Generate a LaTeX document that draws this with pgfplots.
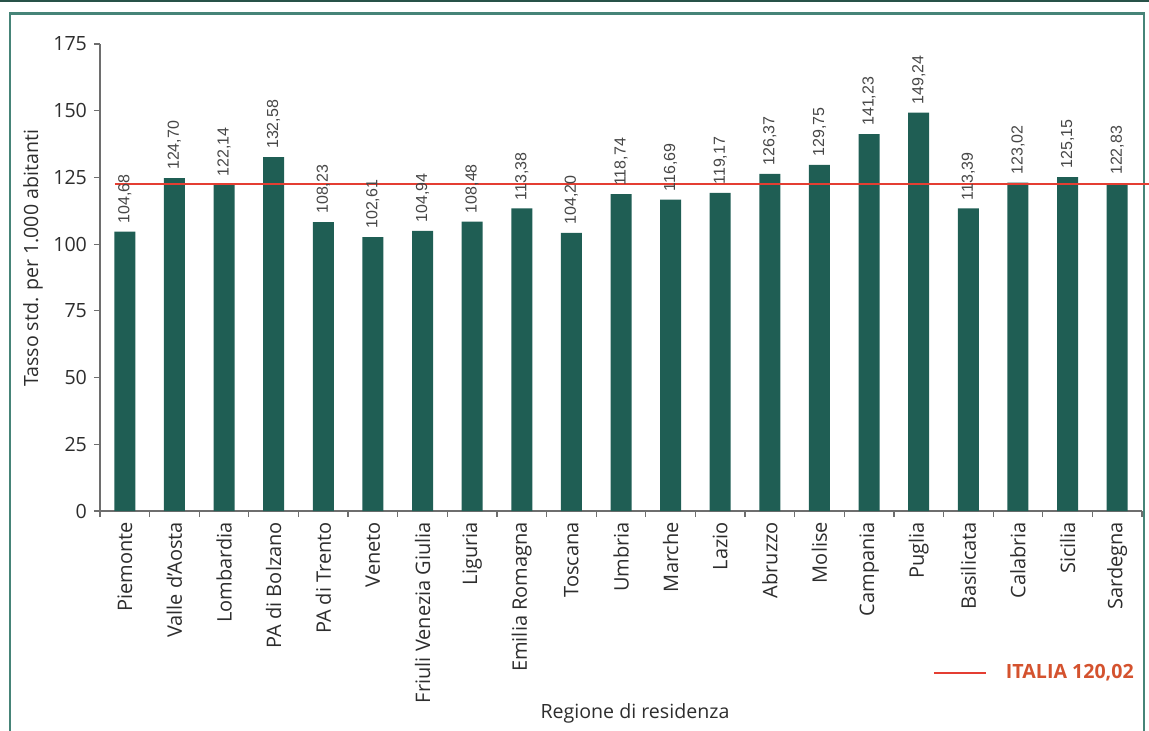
\documentclass[border=0pt]{standalone}
\usepackage{pgfplots}
\pgfplotsset{compat=1.18}
\usepackage{fontspec}
\setmainfont{Open Sans}
\newfontfamily\valfont{Liberation Sans}
\definecolor{barcol}{RGB}{31,94,84}
\definecolor{redline}{RGB}{228,62,50}
\definecolor{legred}{RGB}{212,82,46}
\definecolor{framecol}{RGB}{70,132,120}
\definecolor{topband}{RGB}{40,82,72}
\definecolor{axcol}{RGB}{110,110,110}
\definecolor{txtcol}{RGB}{45,45,45}
\definecolor{valcol}{RGB}{70,70,70}
\begin{document}
\begin{tikzpicture}
\path[use as bounding box] (0,0) rectangle (574.5pt,-365.5pt);
\fill[topband] (0,0) rectangle (574.5pt,-1.2pt);
\draw[framecol, line width=1.2pt] (5pt,-6.8pt) rectangle (572pt,-372pt);
\begin{axis}[
  at={(50pt,-255.5pt)}, anchor=south west,
  scale only axis, width=521pt, height=233.5pt,
  xmin=-0.5, xmax=20.5, ymin=0, ymax=175,
  clip=false,
  axis lines*=left,
  axis line style={axcol, line width=0.6pt},
  every tick/.style={axcol, line width=0.6pt},
  tick align=outside, major tick length=3pt,
  ytick={0,25,...,175},
  yticklabel style={font=\fontsize{9.8}{11}\selectfont, text=txtcol, /pgf/number format/assume math mode=true},
  xtick={-0.5,0.5,...,20.5}, xticklabels={},
  extra x ticks={0,1,...,20},
  extra x tick style={major tick length=0pt, tick style={draw=none}},
  extra x tick labels={Piemonte,Valle d'Aosta,Lombardia,PA di Bolzano,PA di Trento,Veneto,Friuli Venezia Giulia,Liguria,Emilia Romagna,Toscana,Umbria,Marche,Lazio,Abruzzo,Molise,Campania,Puglia,Basilicata,Calabria,Sicilia,Sardegna},
  xticklabel style={rotate=90, anchor=east, font=\fontsize{10}{11}\selectfont, text=txtcol, xshift=-2pt},
  ylabel={Tasso std. per 1.000 abitanti},
  ylabel style={at={(axis description cs:-0.0643,0.541)}, anchor=center, font=\fontsize{9.8}{11}\selectfont, text=txtcol},
  xlabel={Regione di residenza},
  xlabel style={at={(axis description cs:0.5134,-0.4325)}, anchor=center, font=\fontsize{9.8}{11}\selectfont, text=txtcol},
  legend style={at={(axis description cs:0.7994,-0.347)}, anchor=west, draw=none, fill=none, inner sep=0pt, outer sep=0pt,
    font=\fontsize{9.8}{11}\selectfont\bfseries, text=legred},
  legend image code/.code={\draw[#1] (0pt,0pt) -- (26pt,0pt);},
  legend cell align=left,
]
\addplot[ybar, bar width=10.5pt, fill=barcol, draw=none,
  nodes near coords,
  every node near coord/.append style={rotate=90, anchor=west, font=\valfont\fontsize{8}{9}\selectfont, text=valcol, inner sep=2pt, xshift=2pt,
    /pgf/number format/.cd, fixed, fixed zerofill, precision=2, use comma, assume math mode=true},
  forget plot]
coordinates {
(0,104.68) (1,124.70) (2,122.14) (3,132.58) (4,108.23) (5,102.61) (6,104.94)
(7,108.48) (8,113.38) (9,104.20) (10,118.74) (11,116.69) (12,119.17) (13,126.37)
(14,129.75) (15,141.23) (16,149.24) (17,113.39) (18,123.02) (19,125.15) (20,122.83)
};
\addplot[redline, line width=1pt] coordinates {(-0.2,122.4) (20.75,122.4)};
\addlegendentry{\hspace{7.5pt}ITALIA 120,02}
\end{axis}
\end{tikzpicture}
\end{document}
